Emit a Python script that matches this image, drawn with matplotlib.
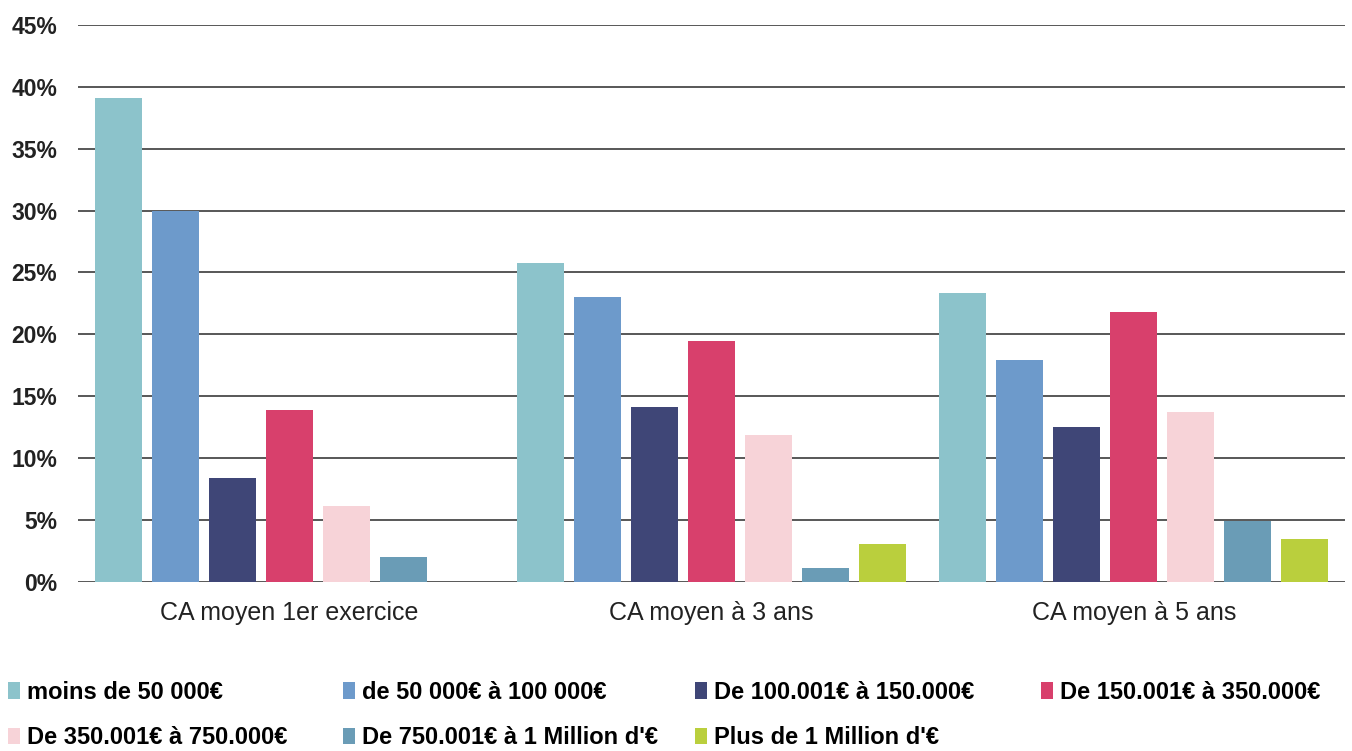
import matplotlib.pyplot as plt
import numpy as np

plt.rcParams['font.family'] = ['Liberation Sans', 'DejaVu Sans']

categories = ["CA moyen 1er exercice", "CA moyen à 3 ans", "CA moyen à 5 ans"]
series = ["moins de 50 000€", "de 50 000€ à 100 000€", "De 100.001€ à 150.000€",
          "De 150.001€ à 350.000€", "De 350.001€ à 750.000€",
          "De 750.001€ à 1 Million d'€", "Plus de 1 Million d'€"]
values = [
    [39.1, 25.8, 23.3],   # moins de 50 000
    [30.0, 23.0, 17.9],   # 50 000 - 100 000
    [8.4, 14.1, 12.5],    # 100.001 - 150.000
    [13.9, 19.5, 21.8],   # 150.001 - 350.000
    [6.1, 11.9, 13.7],    # 350.001 - 750.000
    [2.0, 1.1, 4.9],      # 750.001 - 1M
    [0.0, 3.1, 3.5],      # > 1M
]
colors = ["#8cc3cb", "#6d9acb", "#3f4677", "#d8406c", "#f7d3d8", "#6a9cb6", "#bacf3d"]

fig = plt.figure(figsize=(13.52, 7.51), dpi=100)
ax = fig.add_axes([0.0577, 0.225, 0.937, 0.742])

x = np.arange(len(categories))
slot = 0.135
width = 0.111
handles = []
for i, (name, vals) in enumerate(zip(series, values)):
    b = ax.bar(x + (i - 3) * slot, vals, width, color=colors[i], label=name, zorder=3)
    handles.append(b)

ax.set_xlim(-0.5, 2.5)
ax.set_ylim(0, 45)
ax.set_yticks(range(0, 50, 5))
ax.set_yticklabels([f"{v}%" for v in range(0, 50, 5)], fontsize=16.5, fontweight='bold', color='#222222')
ax.set_xticks(x)
ax.set_xticklabels(categories, fontsize=18, color='#222222')
ax.tick_params(axis='both', length=0)
ax.tick_params(axis='y', pad=15)
ax.tick_params(axis='x', pad=14)
ax.yaxis.grid(True, color='#2a2a2a', linewidth=1.1, zorder=0)
for s in ax.spines.values():
    s.set_visible(False)

# legend laid out row by row in four fixed columns
col_x = [8, 343, 695, 1041]
for c, cx in enumerate(col_x):
    idx = [k for k in (c, c + 4) if k < len(series)]
    fig.legend([handles[k] for k in idx], [series[k] for k in idx],
               loc='upper left', bbox_to_anchor=(cx / 1352, 1 - 681 / 751),
               frameon=False, borderpad=0, borderaxespad=0,
               handlelength=0.5, handleheight=0.7, handletextpad=0.3,
               labelspacing=0.95, prop={'size': 17, 'weight': 'bold'})

fig.savefig("out.png", dpi=100)
